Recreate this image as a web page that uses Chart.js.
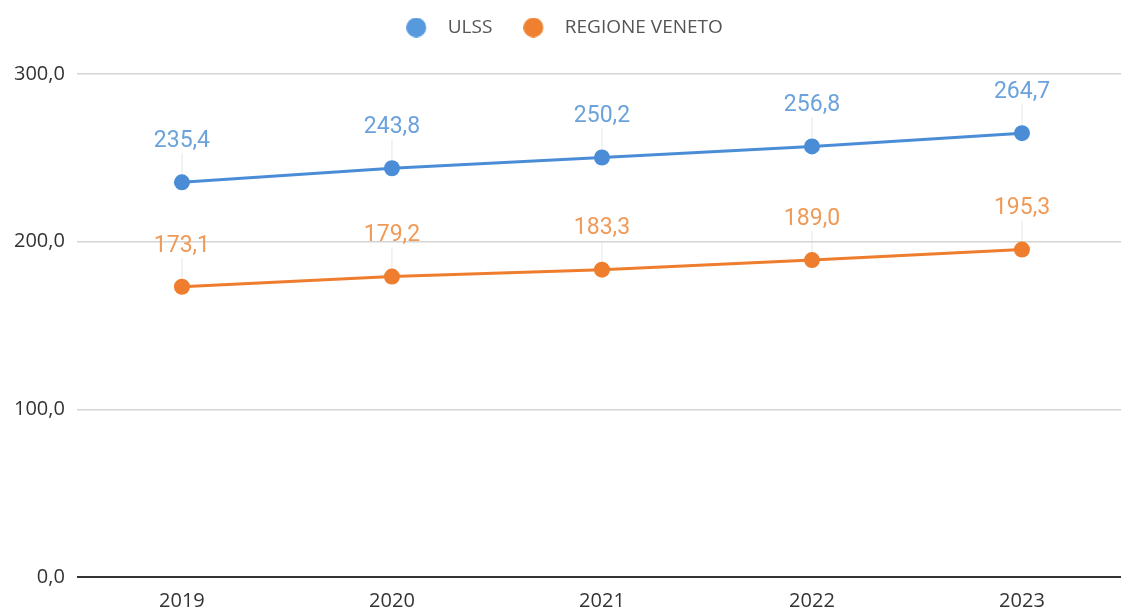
<!DOCTYPE html>
<html>
<head>
<meta charset="utf-8">
<script src="https://cdn.jsdelivr.net/npm/chart.js@4"></script>
<style>
  html, body { margin: 0; padding: 0; background: #fff; overflow: hidden; }
  .wrap { width: 1127px; height: 612px; position: relative; }
</style>
</head>
<body>
<div class="wrap"><canvas id="chart"></canvas></div>
<script>
const years    = ['2019', '2020', '2021', '2022', '2023'];
const ulss     = [235.4, 243.8, 250.2, 256.8, 264.7];
const veneto   = [173.1, 179.2, 183.3, 189.0, 195.3];
const yTicks   = [0, 100, 200, 300];

const BLUE   = '#4a8dd6';
const ORANGE = '#ee7d2e';
const BLUE_TXT   = '#6ba2dc';
const ORANGE_TXT = '#f09a58';

function fmt(v) {
  return v.toFixed(1).replace('.', ',');
}

// legend marker: circle on the left of a wider transparent image
function dot(color) {
  const c = document.createElement('canvas');
  c.width = 32; c.height = 20;
  const g = c.getContext('2d');
  g.fillStyle = color;
  g.beginPath();
  g.arc(10, 10, 10, 0, Math.PI * 2);
  g.fill();
  return c;
}

// keep the legend block tall so the plot starts lower
const legendHeight = {
  id: 'legendHeight',
  beforeInit(chart) {
    const lg = chart.legend;
    if (!lg) return;
    const fit = lg.fit;
    lg.fit = function () {
      fit.call(this);
      this.height = 87;
    };
  }
};

// value labels with a faint leader line down to the point
const valueLabels = {
  id: 'valueLabels',
  beforeDatasetsDraw(chart) {
    const ctx = chart.ctx;
    ctx.save();
    ctx.strokeStyle = 'rgba(215,215,215,0.6)';
    ctx.lineWidth = 1;
    chart.data.datasets.forEach((ds, i) => {
      chart.getDatasetMeta(i).data.forEach(pt => {
        ctx.beginPath();
        ctx.moveTo(pt.x, pt.y - 29);
        ctx.lineTo(pt.x, pt.y - 6);
        ctx.stroke();
      });
    });
    ctx.restore();
  },
  afterDatasetsDraw(chart) {
    const ctx = chart.ctx;
    ctx.save();
    ctx.font = '23px Roboto';
    ctx.textAlign = 'center';
    ctx.textBaseline = 'middle';
    chart.data.datasets.forEach((ds, i) => {
      ctx.fillStyle = ds.labelColor;
      chart.getDatasetMeta(i).data.forEach((pt, j) => {
        ctx.fillText(fmt(ds.data[j]), pt.x, pt.y - 41);
      });
    });
    ctx.restore();
  }
};

new Chart(document.getElementById('chart'), {
  type: 'line',
  data: {
    labels: years,
    datasets: [
      {
        label: 'ULSS',
        data: ulss,
        borderColor: BLUE,
        backgroundColor: BLUE,
        labelColor: BLUE_TXT,
        legendDot: dot('#5699dc'),
        borderWidth: 3,
        pointRadius: 8,
        pointHoverRadius: 8,
        pointBorderWidth: 0,
        tension: 0,
        clip: false
      },
      {
        label: 'REGIONE VENETO',
        data: veneto,
        borderColor: ORANGE,
        backgroundColor: ORANGE,
        labelColor: ORANGE_TXT,
        legendDot: dot('#ef8030'),
        borderWidth: 3,
        pointRadius: 8,
        pointHoverRadius: 8,
        pointBorderWidth: 0,
        tension: 0,
        clip: false
      }
    ]
  },
  options: {
    responsive: true,
    maintainAspectRatio: false,
    animation: false,
    layout: { autoPadding: false, padding: { top: -13, right: 0, left: 2, bottom: -13 } },
    plugins: {
      tooltip: { enabled: false },
      legend: {
        position: 'top',
        labels: {
          usePointStyle: true,
          pointStyleWidth: 32,
          boxHeight: 16,
          padding: 31,
          color: '#555',
          font: { family: 'Open Sans', size: 19 },
          generateLabels: chart => chart.data.datasets.map((ds, i) => ({
            text: ds.label,
            pointStyle: ds.legendDot,
            fillStyle: ds.borderColor,
            strokeStyle: ds.borderColor,
            lineWidth: 0,
            fontColor: '#555',
            datasetIndex: i
          }))
        }
      }
    },
    scales: {
      x: {
        offset: true,
        grid: { display: false, drawTicks: false },
        border: { display: false },
        ticks: {
          color: '#333',
          font: { family: 'Open Sans', size: 20 },
          padding: 12
        }
      },
      y: {
        min: 0,
        max: 300,
        afterBuildTicks: axis => { axis.ticks = yTicks.map(v => ({ value: v })); },
        border: { display: false },
        grid: {
          drawTicks: false,
          color: ctx => ctx.tick.value === 0 ? '#333' : '#d4d4d4',
          lineWidth: ctx => ctx.tick.value === 0 ? 2 : 1.5
        },
        ticks: {
          color: '#333',
          font: { family: 'Open Sans', size: 20 },
          padding: 12,
          callback: v => fmt(v)
        }
      }
    }
  },
  plugins: [legendHeight, valueLabels]
});
</script>
</body>
</html>
